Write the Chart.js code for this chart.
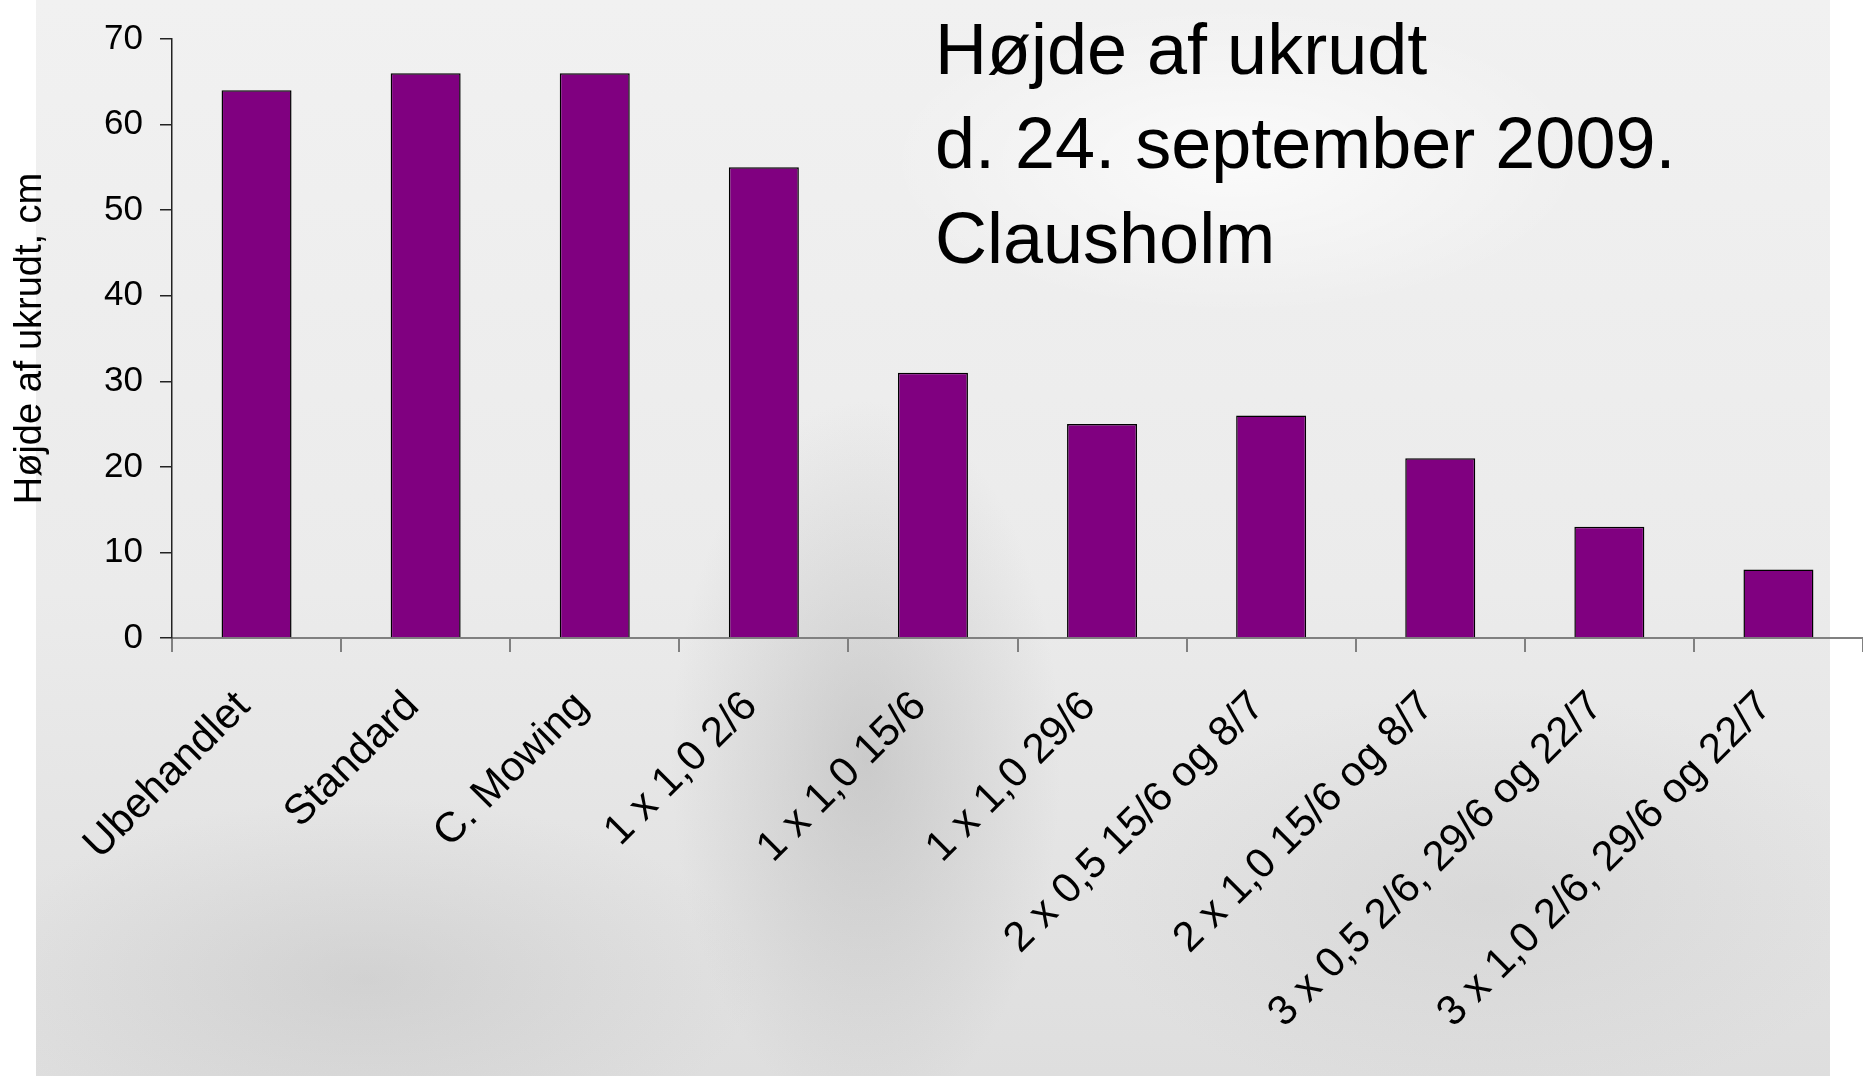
<!DOCTYPE html>
<html>
<head>
<meta charset="utf-8">
<script src="https://cdn.jsdelivr.net/npm/chart.js@4.4.1/dist/chart.umd.min.js"></script>
<style>
  html, body { margin: 0; padding: 0; background: #fff; overflow: hidden; }
  #wrap { position: relative; width: 1863px; height: 1076px; }
  #photo {
    position: absolute; left: 36px; top: 0; width: 1794px; height: 1076px;
    background:
      radial-gradient(ellipse 260px 480px at 830px 760px, rgba(150,150,150,0.35), rgba(150,150,150,0) 75%),
      radial-gradient(ellipse 560px 260px at 330px 980px, rgba(175,175,175,0.3), rgba(175,175,175,0) 70%),
      radial-gradient(ellipse 560px 300px at 1450px 900px, rgba(185,185,185,0.25), rgba(185,185,185,0) 70%),
      radial-gradient(ellipse 500px 220px at 1200px 160px, rgba(255,255,255,0.7), rgba(255,255,255,0) 70%),
      linear-gradient(#f1f1f1, #ebebeb 55%, #dedede);
  }
  canvas { position: absolute; left: 0; top: 0; }
</style>
</head>
<body>
<div id="wrap">
  <div id="photo"></div>
  <canvas id="chart" width="1863" height="1076"></canvas>
</div>
<script>
// data
var categories = [
  "Ubehandlet", "Standard", "C. Mowing", "1 x 1,0 2/6", "1 x 1,0 15/6",
  "1 x 1,0 29/6", "2 x 0,5 15/6 og 8/7", "2 x 1,0 15/6 og 8/7",
  "3 x 0,5 2/6, 29/6 og 22/7", "3 x 1,0 2/6, 29/6 og 22/7"
];
var heights = [64, 66, 66, 55, 31, 25, 26, 21, 13, 8];
var yTicks = [0, 10, 20, 30, 40, 50, 60, 70];
var titleLines = ["Højde af ukrudt", "d. 24. september 2009.", "Clausholm"];
var yTitle = "Højde af ukrudt, cm";

var fontFam = "'Liberation Sans', Arial, sans-serif";

// title text in upper right of the plot
var titlePlugin = {
  id: 'bigTitle',
  afterDraw: function(chart) {
    var ctx = chart.ctx;
    ctx.save();
    ctx.fillStyle = '#000';
    ctx.font = '72px ' + fontFam;
    ctx.textAlign = 'left';
    ctx.textBaseline = 'alphabetic';
    var base = [74, 168, 263];
    for (var i = 0; i < titleLines.length; i++) {
      ctx.fillText(titleLines[i], 935, base[i]);
    }
    ctx.restore();
  }
};

var ctx = document.getElementById('chart');
new Chart(ctx, {
  type: 'bar',
  data: {
    labels: categories,
    datasets: [{
      data: heights,
      backgroundColor: '#800080',
      borderColor: '#000',
      borderWidth: 1.5,
      categoryPercentage: 1,
      barPercentage: 0.414
    }]
  },
  options: {
    responsive: false,
    animation: false,
    layout: { padding: { top: 39, left: 0, right: 0, bottom: 0 } },
    plugins: {
      legend: { display: false },
      tooltip: { enabled: false }
    },
    scales: {
      x: {
        grid: { drawOnChartArea: false, color: '#808080', lineWidth: 2, tickLength: 14, offset: true },
        border: { color: '#808080', width: 2 },
        ticks: {
          autoSkip: false, minRotation: 45, maxRotation: 45,
          color: '#000', padding: 30, labelOffset: -13,
          font: { family: fontFam, size: 42 }
        },
        afterFit: function(s) { s.height = 438; }
      },
      y: {
        min: 0, max: 70,
        afterBuildTicks: function(s) { s.ticks = yTicks.map(function(v) { return { value: v }; }); },
        grid: { drawOnChartArea: false, color: '#222', lineWidth: 1.5, tickLength: 12 },
        border: { color: '#222', width: 1.5 },
        ticks: {
          color: '#000', padding: 17,
          font: { family: fontFam, size: 35 }
        },
        title: {
          display: true, text: yTitle, color: '#000',
          font: { family: fontFam, size: 38, lineHeight: 1.2 },
          padding: { top: 8, bottom: 0 }
        },
        afterFit: function(s) { s.width = 172; }
      }
    }
  },
  plugins: [titlePlugin]
});
</script>
</body>
</html>
